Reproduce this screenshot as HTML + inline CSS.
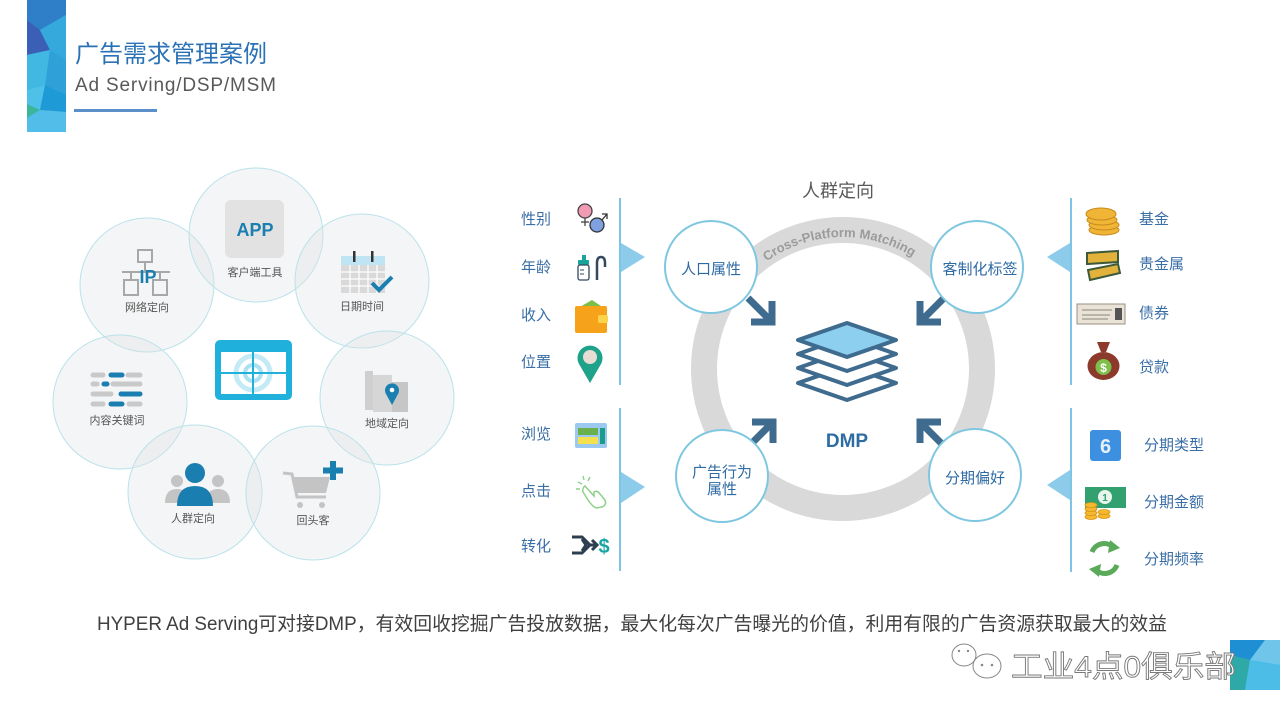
<!DOCTYPE html>
<html><head><meta charset="utf-8">
<style>
html,body{margin:0;padding:0;background:#fff;}
svg{display:block;}
text{font-family:"Liberation Sans","Noto Sans CJK SC",sans-serif;}
.sm{font-size:11px;fill:#555;text-anchor:middle;}
.lb{font-size:15px;fill:#3a6ea6;}
.cl{font-size:15px;fill:#2e6aa4;text-anchor:middle;}
</style></head>
<body>
<svg width="1280" height="720" viewBox="0 0 1280 720" xmlns="http://www.w3.org/2000/svg">
<rect width="1280" height="720" fill="#fff"/>

<!-- header bar -->
<rect x="27" y="0" width="39" height="132" fill="#3db3e0"/>
<polygon points="27,0 66,0 66,15 40,30 27,20" fill="#2e7fc8"/>
<polygon points="27,20 40,30 50,50 27,55" fill="#3b5fb5"/>
<polygon points="40,30 66,15 66,60 50,50" fill="#35a8dc"/>
<polygon points="27,55 50,50 45,85 27,90" fill="#40b8e2"/>
<polygon points="50,50 66,60 66,95 45,85" fill="#2fa0d8"/>
<polygon points="27,90 45,85 40,110 27,104" fill="#4fc0e8"/>
<polygon points="27,104 40,110 27,118" fill="#3ab79b"/>
<polygon points="45,85 66,95 66,112 40,110" fill="#1e9ad6"/>
<polygon points="27,118 40,110 66,112 66,132 27,132" fill="#52bde8"/>

<text x="75" y="62" style="font-size:24px;fill:#2a72b5;">广告需求管理案例</text>
<text x="75" y="91" style="font-size:19px;fill:#595959;" textLength="201">Ad Serving/DSP/MSM</text>
<rect x="74" y="109" width="83" height="3" fill="#5b8fc9"/>

<!-- left circles -->
<g fill="#dfe3e5" fill-opacity="0.35" stroke="#b9e2ea" stroke-width="1">
<circle cx="147" cy="285" r="67"/>
<circle cx="256" cy="235" r="67"/>
<circle cx="362" cy="281" r="67"/>
<circle cx="120" cy="402" r="67"/>
<circle cx="387" cy="398" r="67"/>
<circle cx="195" cy="492" r="67"/>
<circle cx="313" cy="493" r="67"/>
</g>

<!-- APP -->
<rect x="225" y="200" width="59" height="58" rx="6" fill="#e2e2e2"/>
<text x="255" y="236" style="font-size:18px;font-weight:bold;fill:#1a7fb0;text-anchor:middle;">APP</text>
<text x="255" y="276" class="sm">客户端工具</text>

<!-- IP -->
<g stroke="#a8a8a8" stroke-width="2" fill="none">
<rect x="138" y="250" width="14" height="12"/>
<line x1="145" y1="262" x2="145" y2="272"/>
<line x1="122" y1="272" x2="170" y2="272"/>
<line x1="131" y1="272" x2="131" y2="280"/>
<line x1="160" y1="272" x2="160" y2="280"/>
<rect x="124" y="280" width="14" height="15"/>
<rect x="153" y="280" width="14" height="15"/>
</g>
<text x="148" y="283" style="font-size:18px;font-weight:bold;fill:#1a7fb0;text-anchor:middle;">IP</text>
<text x="147" y="311" class="sm">网络定向</text>

<!-- calendar -->
<rect x="341" y="256" width="44" height="9" fill="#bfe4f3"/>
<rect x="341" y="265" width="44" height="28" fill="#d9d9d9"/>
<g stroke="#fff" stroke-width="1.2">
<line x1="341" y1="272" x2="385" y2="272"/><line x1="341" y1="279" x2="385" y2="279"/><line x1="341" y1="286" x2="385" y2="286"/>
<line x1="350" y1="265" x2="350" y2="293"/><line x1="359" y1="265" x2="359" y2="293"/><line x1="368" y1="265" x2="368" y2="293"/><line x1="377" y1="265" x2="377" y2="293"/>
</g>
<rect x="353" y="251" width="2.5" height="11" fill="#333"/>
<rect x="371" y="251" width="2.5" height="11" fill="#333"/>
<polyline points="372,283 379,290 392,277" fill="none" stroke="#1a7fb0" stroke-width="4"/>
<text x="362" y="310" class="sm">日期时间</text>

<!-- keywords -->
<g stroke-linecap="round" stroke-width="5">
<line x1="93" y1="375" x2="103" y2="375" stroke="#c9c9c9"/><line x1="111" y1="375" x2="122" y2="375" stroke="#1a7fb0"/><line x1="128" y1="375" x2="140" y2="375" stroke="#c9c9c9"/>
<line x1="93" y1="384" x2="97" y2="384" stroke="#c9c9c9"/><line x1="104" y1="384" x2="107" y2="384" stroke="#1a7fb0"/><line x1="113" y1="384" x2="140" y2="384" stroke="#c9c9c9"/>
<line x1="93" y1="394" x2="111" y2="394" stroke="#c9c9c9"/><line x1="121" y1="394" x2="140" y2="394" stroke="#1a7fb0"/>
<line x1="93" y1="404" x2="103" y2="404" stroke="#c9c9c9"/><line x1="111" y1="404" x2="122" y2="404" stroke="#1a7fb0"/><line x1="129" y1="404" x2="140" y2="404" stroke="#c9c9c9"/>
</g>
<text x="117" y="424" class="sm">内容关键词</text>

<!-- center icon -->
<rect x="215" y="340" width="77" height="60" rx="5" fill="#1fb0dc"/>
<rect x="221" y="352" width="65" height="42" fill="#fff"/>
<circle cx="253" cy="373" r="17" fill="none" stroke="#c4eaf6" stroke-width="5"/>
<circle cx="253" cy="373" r="8" fill="none" stroke="#a9e0f2" stroke-width="4"/>
<line x1="221" y1="373" x2="286" y2="373" stroke="#1fb0dc" stroke-width="2"/>
<line x1="253" y1="352" x2="253" y2="394" stroke="#1fb0dc" stroke-width="2"/>

<!-- region -->
<rect x="365" y="371" width="8" height="39" fill="#cfcfcf"/>
<rect x="373" y="375" width="19" height="37" fill="#d6d6d6"/>
<rect x="392" y="382" width="16" height="30" fill="#c6c6c6"/>
<path d="M392,405 L386,394 A7,7 0 1 1 398,394 Z" fill="#1a7fb0"/>
<circle cx="392" cy="390" r="2.3" fill="#fff"/>
<text x="387" y="427" class="sm">地域定向</text>

<!-- people -->
<circle cx="177" cy="481" r="6" fill="#c4c4c4"/>
<path d="M165,503 Q165,489 177,489 Q189,489 189,503 Z" fill="#c4c4c4"/>
<circle cx="218" cy="481" r="6" fill="#c4c4c4"/>
<path d="M206,503 Q206,489 218,489 Q230,489 230,503 Z" fill="#c4c4c4"/>
<circle cx="195" cy="473" r="10" fill="#1a7fb0"/>
<path d="M177,506 Q177,486 195,486 Q213,486 213,506 Z" fill="#1a7fb0"/>
<text x="193" y="522" class="sm">人群定向</text>

<!-- cart -->
<polyline points="283,473 292,474 297,497 326,497" fill="none" stroke="#c4c4c4" stroke-width="3"/>
<polygon points="293,477 330,477 326,493 297,493" fill="#c4c4c4"/>
<circle cx="300" cy="505" r="3" fill="#c4c4c4"/>
<circle cx="322" cy="505" r="3" fill="#c4c4c4"/>
<rect x="330" y="461" width="6" height="19" fill="#1a7fb0"/>
<rect x="323" y="467.5" width="20" height="6" fill="#1a7fb0"/>
<text x="313" y="524" class="sm">回头客</text>

<!-- DMP section -->
<text x="838" y="197" style="font-size:18px;fill:#595959;text-anchor:middle;">人群定向</text>
<circle cx="843" cy="369" r="139" fill="none" stroke="#d9d9d9" stroke-width="26"/>
<defs><path id="arc" d="M711,369 A132,132 0 0 1 975,369"/></defs>
<text style="font-size:13px;font-weight:bold;fill:#9b9b9b;"><textPath href="#arc" startOffset="49%" text-anchor="middle">Cross-Platform Matching</textPath></text>

<!-- layers -->
<g stroke="#3f6b8f" stroke-width="4" stroke-linejoin="round">
<polygon points="798,383 847,366 896,383 847,400" fill="#fff"/>
<polygon points="798,368 847,351 896,368 847,385" fill="#fff"/>
<polygon points="798,354 847,337 896,354 847,371" fill="#fff"/>
<polygon points="798,340 847,323 896,340 847,357" fill="#8ccfee"/>
</g>
<text x="847" y="447" style="font-size:19px;font-weight:bold;fill:#2e6da4;text-anchor:middle;">DMP</text>

<!-- arrows -->
<g stroke="#3f6b8f" stroke-width="7" fill="none">
<line x1="748" y1="298" x2="770" y2="320"/><polyline points="751,322 772,322 772,301"/>
<line x1="944" y1="298" x2="922" y2="320"/><polyline points="941,322 920,322 920,301"/>
<line x1="749" y1="446" x2="771" y2="424"/><polyline points="752,422 773,422 773,443"/>
<line x1="944" y1="446" x2="922" y2="424"/><polyline points="941,422 920,422 920,443"/>
</g>

<!-- small circles -->
<g fill="#fff" stroke="#7fc7e0" stroke-width="2">
<circle cx="711" cy="267" r="46"/>
<circle cx="977" cy="267" r="46"/>
<circle cx="722" cy="476" r="46"/>
<circle cx="975" cy="475" r="46"/>
</g>
<text x="711" y="274" class="cl">人口属性</text>
<text x="980" y="274" class="cl">客制化标签</text>
<text x="722" y="477" class="cl">广告行为</text>
<text x="722" y="494" class="cl">属性</text>
<text x="975" y="483" class="cl">分期偏好</text>

<!-- left list -->
<g stroke="#7ec4e4" stroke-width="2">
<line x1="620" y1="198" x2="620" y2="385"/>
<line x1="620" y1="408" x2="620" y2="571"/>
<line x1="1071" y1="198" x2="1071" y2="385"/>
<line x1="1071" y1="408" x2="1071" y2="572"/>
</g>
<polygon points="621,243 645,257 621,272" fill="#8ccbe9"/>
<polygon points="621,472 645,487 621,503" fill="#8ccbe9"/>
<polygon points="1070,243 1047,257 1070,272" fill="#8ccbe9"/>
<polygon points="1070,470 1047,485 1070,500" fill="#8ccbe9"/>

<text x="521" y="224" class="lb">性别</text>
<text x="521" y="272" class="lb">年龄</text>
<text x="521" y="320" class="lb">收入</text>
<text x="521" y="367" class="lb">位置</text>
<text x="521" y="439" class="lb">浏览</text>
<text x="521" y="496" class="lb">点击</text>
<text x="521" y="551" class="lb">转化</text>

<!-- gender -->
<circle cx="585" cy="211" r="7" fill="#f19bb5" stroke="#444" stroke-width="1.3"/>
<line x1="585" y1="218" x2="585" y2="226" stroke="#444" stroke-width="1.3"/>
<line x1="581" y1="222" x2="589" y2="222" stroke="#444" stroke-width="1.3"/>
<circle cx="597" cy="225" r="7" fill="#7fa1df" stroke="#333" stroke-width="1.3"/>
<line x1="602" y1="220" x2="607" y2="214" stroke="#333" stroke-width="1.3"/>
<polyline points="602,214 607,214 607,219" fill="none" stroke="#333" stroke-width="1.3"/>

<!-- age -->
<rect x="582" y="255" width="4" height="5" fill="#1aa59a"/>
<rect x="578" y="260" width="11" height="5" rx="1" fill="#1aa59a"/>
<rect x="578" y="265" width="11" height="15" rx="2" fill="#fff" stroke="#34495e" stroke-width="1.3"/>
<line x1="580" y1="270" x2="584" y2="270" stroke="#34495e"/><line x1="580" y1="274" x2="584" y2="274" stroke="#34495e"/>
<path d="M597,280 L597,263 Q597,257 601,257 Q605,257 605,263 L605,267" fill="none" stroke="#34495e" stroke-width="2.5"/>

<!-- wallet -->
<polygon points="578,308 592,300 604,308" fill="#7bbf49"/>
<rect x="575" y="306" width="32" height="27" rx="2" fill="#f7a21b"/>
<rect x="598" y="315" width="10" height="8" rx="2" fill="#fcd34d"/>

<!-- pin -->
<path d="M590,383 L579,364 A12.5,12.5 0 1 1 601,364 Z" fill="#1fa28a"/>
<circle cx="590" cy="357" r="7" fill="#e8ddd5"/>

<!-- browse -->
<rect x="575" y="423" width="32" height="25" rx="2" fill="#9bc9ef"/>
<rect x="578" y="428" width="20" height="7" fill="#6ab04c"/>
<rect x="578" y="437" width="20" height="7" fill="#f5e050"/>
<rect x="600" y="428" width="5" height="16" fill="#1a9c8c"/>

<!-- click -->
<g fill="none" stroke="#8fd18a" stroke-width="1.5">
<line x1="578" y1="482" x2="582" y2="484"/><line x1="583" y1="476" x2="584" y2="480"/><line x1="576" y1="489" x2="580" y2="489"/><line x1="590" y1="477" x2="588" y2="481"/>
<path d="M585,486 L594,496 L594,492 Q597,490 600,494 L605,500 Q607,505 602,507 L596,508 Q592,506 588,500 L583,492 Q582,488 585,486 Z"/>
</g>

<!-- convert -->
<g fill="none" stroke="#2c3e50" stroke-width="3">
<path d="M572,537 L582,537 L590,545 L596,545"/>
<path d="M572,553 L582,553 L590,545"/>
<polyline points="592,540 597,545 592,550"/>
<polyline points="582,539 586,545 582,551"/>
</g>
<text x="604" y="553" style="font-size:20px;font-weight:bold;fill:#1aa5a5;text-anchor:middle;">$</text>

<!-- right list -->
<text x="1139" y="224" class="lb">基金</text>
<text x="1139" y="269" class="lb">贵金属</text>
<text x="1139" y="318" class="lb">债券</text>
<text x="1139" y="372" class="lb">贷款</text>
<text x="1144" y="450" class="lb">分期类型</text>
<text x="1144" y="507" class="lb">分期金额</text>
<text x="1144" y="564" class="lb">分期频率</text>

<!-- coins -->
<g fill="#f0b537" stroke="#c98a1a" stroke-width="1">
<ellipse cx="1104" cy="230" rx="15" ry="5"/>
<ellipse cx="1104" cy="225" rx="15" ry="5"/>
<ellipse cx="1102" cy="220" rx="15" ry="5"/>
<ellipse cx="1101" cy="214" rx="15" ry="6"/>
</g>
<!-- gold bars -->
<g fill="#e2b23a" stroke="#3d5a3a" stroke-width="2">
<polygon points="1087,253 1118,251 1118,262 1087,264"/>
<polygon points="1088,270 1118,264 1120,273 1090,280"/>
</g>
<!-- check -->
<rect x="1077" y="304" width="48" height="20" fill="#e9e2d6" stroke="#9a9183" stroke-width="1"/>
<g stroke="#8a8478" stroke-width="1"><line x1="1082" y1="310" x2="1112" y2="310"/><line x1="1082" y1="315" x2="1110" y2="315"/><line x1="1082" y1="319" x2="1108" y2="319"/></g>
<rect x="1115" y="308" width="7" height="12" fill="#555"/>
<!-- money bag -->
<path d="M1097,342 L1110,342 L1106,352 L1101,352 Z" fill="#8b3a2b"/>
<ellipse cx="1103.5" cy="366" rx="16" ry="14" fill="#8b3a2b"/>
<circle cx="1103.5" cy="367" r="8" fill="#7ec04a"/>
<text x="1103.5" y="372" style="font-size:12px;font-weight:bold;fill:#fff;text-anchor:middle;">$</text>

<!-- 6 -->
<rect x="1090" y="430" width="31" height="31" rx="3" fill="#3d8fe0"/>
<text x="1105.5" y="453" style="font-size:20px;font-weight:bold;fill:#e8f1fb;text-anchor:middle;">6</text>
<!-- money -->
<rect x="1085" y="487" width="41" height="21" fill="#33a06f"/>
<circle cx="1105" cy="497" r="7" fill="#e8f5ec"/>
<text x="1105" y="501" style="font-size:10px;font-weight:bold;fill:#33a06f;text-anchor:middle;">1</text>
<g fill="#f5b82e" stroke="#d89417" stroke-width="0.8">
<ellipse cx="1091" cy="517" rx="6" ry="2.5"/><ellipse cx="1091" cy="513" rx="6" ry="2.5"/><ellipse cx="1091" cy="509" rx="6" ry="2.5"/><ellipse cx="1091" cy="505" rx="6" ry="2.5"/>
<ellipse cx="1104" cy="516" rx="6" ry="2.5"/><ellipse cx="1104" cy="512" rx="6" ry="2.5"/>
</g>
<!-- recycle -->
<g fill="none" stroke="#5aaa5a" stroke-width="5">
<path d="M1092,552 A13,13 0 0 1 1114,548"/>
<path d="M1117,565 A13,13 0 0 1 1095,569"/>
</g>
<polygon points="1110,540 1120,548 1108,553" fill="#5aaa5a"/>
<polygon points="1099,577 1089,569 1101,564" fill="#5aaa5a"/>

<!-- bottom text -->
<text x="97" y="630" style="font-size:19px;fill:#404040;" textLength="1070" lengthAdjust="spacingAndGlyphs">HYPER Ad Serving可对接DMP，有效回收挖掘广告投放数据，最大化每次广告曝光的价值，利用有限的广告资源获取最大的效益</text>

<!-- watermark -->
<ellipse cx="964" cy="655" rx="12" ry="11" fill="#fff" stroke="#888" stroke-width="1"/>
<ellipse cx="987" cy="666" rx="14" ry="12" fill="#fff" stroke="#888" stroke-width="1"/>
<circle cx="982" cy="665" r="1.3" fill="#888"/><circle cx="992" cy="665" r="1.3" fill="#888"/>
<circle cx="959" cy="651" r="1.2" fill="#888"/><circle cx="968" cy="651" r="1.2" fill="#888"/>
<rect x="1230" y="640" width="50" height="50" fill="#3fb2e0"/>
<polygon points="1230,640 1265,640 1250,660 1230,655" fill="#1f8fd3"/>
<polygon points="1250,660 1265,640 1280,640 1280,665" fill="#6fc6ea"/>
<polygon points="1230,655 1250,660 1245,690 1230,690" fill="#2fa9a8"/>
<polygon points="1250,660 1280,665 1280,690 1245,690" fill="#4cbde6"/>
<text x="1011" y="677" style="font-size:30px;fill:#fff;stroke:#7a7a7a;stroke-width:0.9;" textLength="225" lengthAdjust="spacingAndGlyphs">工业4点0俱乐部</text>
</svg>
</body></html>
